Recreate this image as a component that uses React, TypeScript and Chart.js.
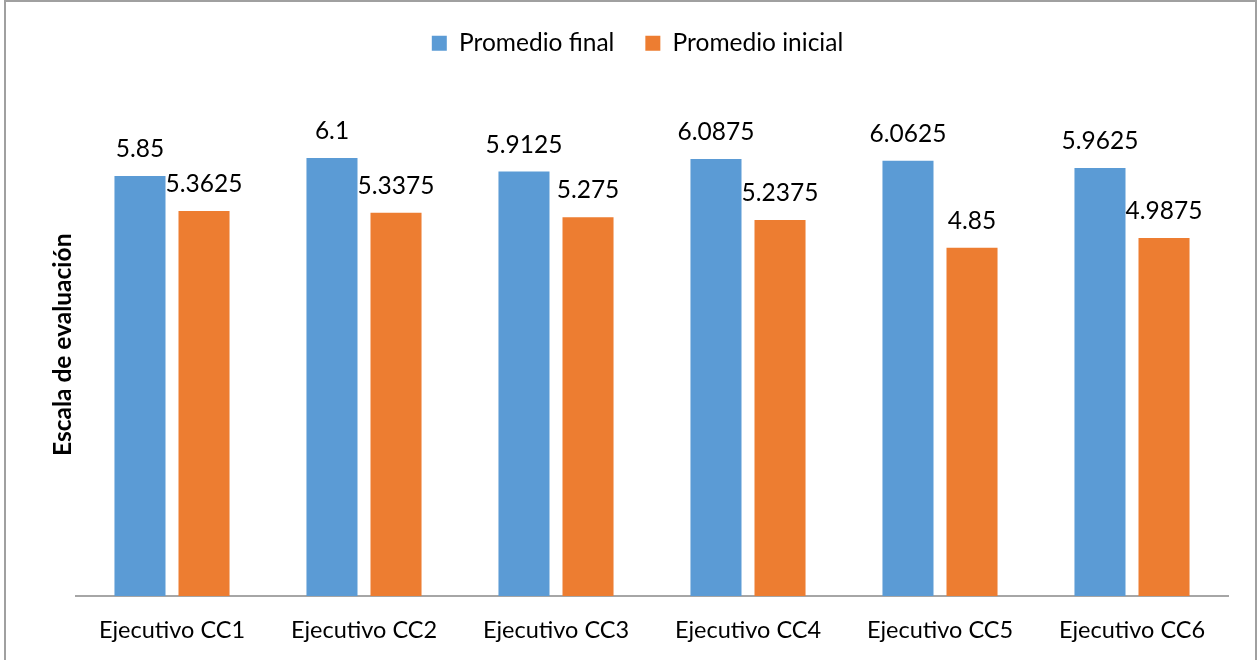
import React, { useEffect, useRef } from "react";
import { Chart, registerables } from "chart.js";

Chart.register(...registerables);

const categories = [
  "Ejecutivo CC1",
  "Ejecutivo CC2",
  "Ejecutivo CC3",
  "Ejecutivo CC4",
  "Ejecutivo CC5",
  "Ejecutivo CC6",
];
const promedioFinal = [5.85, 6.1, 5.9125, 6.0875, 6.0625, 5.9625];
const promedioInicial = [5.3625, 5.3375, 5.275, 5.2375, 4.85, 4.9875];
const seriesNames = ["Promedio final", "Promedio inicial"];
const yAxisTitle = "Escala de evaluación";
const yMin = 0;
const yMax = 7;

const FONT = "Lato, 'Liberation Sans', sans-serif";
const BLUE = "#5B9BD5";
const ORANGE = "#ED7D31";

const valueLabels = {
  id: "valueLabels",
  afterDatasetsDraw(chart: any) {
    const ctx = chart.ctx;
    ctx.save();
    ctx.font = `24.5px ${FONT}`;
    ctx.fillStyle = "#000";
    ctx.textAlign = "center";
    ctx.textBaseline = "alphabetic";
    chart.data.datasets.forEach((ds: any, i: number) => {
      const meta = chart.getDatasetMeta(i);
      meta.data.forEach((bar: any, j: number) => {
        ctx.fillText(String(ds.data[j]), bar.x, bar.y - 19);
      });
    });
    ctx.restore();
  },
};

const yTitle = {
  id: "yTitle",
  afterDraw(chart: any) {
    const ctx = chart.ctx;
    const area = chart.chartArea;
    ctx.save();
    ctx.translate(63, (area.top + area.bottom) / 2);
    ctx.rotate(-Math.PI / 2);
    ctx.font = `bold 24.5px ${FONT}`;
    ctx.fillStyle = "#000";
    ctx.textAlign = "center";
    ctx.textBaseline = "middle";
    ctx.fillText(yAxisTitle, 0, 0);
    ctx.restore();
  },
};

export default function App() {
  const canvasRef = useRef<HTMLCanvasElement | null>(null);

  useEffect(() => {
    if (!canvasRef.current) return;
    const chart = new Chart(canvasRef.current, {
      type: "bar",
      data: {
        labels: categories,
        datasets: [
          {
            label: seriesNames[0],
            data: promedioFinal,
            backgroundColor: BLUE,
            borderWidth: 0,
            categoryPercentage: 0.667,
            barPercentage: 0.797,
          },
          {
            label: seriesNames[1],
            data: promedioInicial,
            backgroundColor: ORANGE,
            borderWidth: 0,
            categoryPercentage: 0.667,
            barPercentage: 0.797,
          },
        ],
      },
      options: {
        animation: false,
        responsive: true,
        maintainAspectRatio: false,
        layout: { padding: { left: 47, right: 30, top: 0, bottom: 0 } },
        plugins: {
          legend: {
            position: "top",
            align: "center",
            labels: {
              boxWidth: 15,
              boxHeight: 15,
              padding: 31,
              color: "#000",
              font: { family: FONT, size: 24.5 },
            },
          },
          subtitle: {
            display: true,
            text: "",
            weight: 500,
            position: "top",
            font: { size: 12, lineHeight: 1 },
            padding: { top: 8, bottom: 8 },
          },
          tooltip: { enabled: false },
        },
        scales: {
          x: {
            grid: { display: false, drawTicks: false },
            border: { display: true, color: "#a6a6a6", width: 2 },
            ticks: {
              color: "#000",
              padding: 20,
              font: { family: FONT, size: 23.5 },
              maxRotation: 0,
            },
            afterFit: (scale: any) => {
              scale.height = 64;
            },
          },
          y: {
            display: true,
            min: yMin,
            max: yMax,
            grid: { display: false, drawTicks: false },
            border: { display: false },
            ticks: { display: false },
            afterFit: (scale: any) => {
              scale.width = 29;
            },
          },
        },
      },
      plugins: [valueLabels, yTitle],
    });
    return () => chart.destroy();
  }, []);

  return (
    <div
      style={{
        position: "fixed",
        left: 0,
        top: 0,
        width: 1258,
        height: 660,
        overflow: "hidden",
        background: "#fff",
      }}
    >
      <div
        style={{
          position: "absolute",
          left: 4,
          top: 0,
          width: 1253,
          height: 700,
          border: "2px solid #a0a0a0",
          boxSizing: "border-box",
        }}
      />
      <div style={{ position: "absolute", left: 0, top: 0, width: 1258, height: 660 }}>
        <canvas ref={canvasRef} />
      </div>
    </div>
  );
}
